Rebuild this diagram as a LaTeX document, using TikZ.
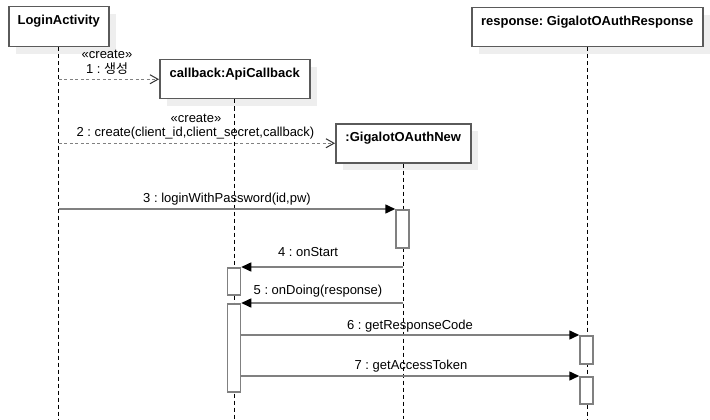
\documentclass[tikz,border=0pt]{standalone}
\usepackage{fontspec}
\setmainfont{Liberation Sans}
\newfontfamily\krfont{Noto Sans CJK KR}
\usetikzlibrary{arrows.meta,shadows}
\definecolor{boxgray}{HTML}{5A5A5A}
\definecolor{linegray}{HTML}{808080}
\definecolor{shadowgray}{HTML}{EEEEEE}
\frenchspacing
\begin{document}
\frenchspacing
\begin{tikzpicture}[x=1pt,y=-1pt,
  font=\fontsize{13}{15}\selectfont\frenchspacing,
  obj/.style={draw=boxgray, line width=1.5pt, fill=white, rectangle, inner sep=0pt,
    anchor=north west,
    general shadow={fill=shadowgray, draw=none, shadow xshift=7pt, shadow yshift=-7pt}},
  title/.style={anchor=base, yshift=-18.5pt, inner sep=0pt, font=\fontsize{13}{15}\selectfont\bfseries\frenchspacing},
  life/.style={draw=black, line width=0.8pt, dash pattern=on 4pt off 3pt},
  act/.style={draw=linegray, line width=1.5pt, fill=white, rectangle, inner sep=0pt,
    minimum width=13pt, anchor=north},
  msg/.style={draw=linegray, line width=1.5pt, -{Triangle[length=10pt,width=9pt,fill=black,color=black]}},
  create/.style={draw=linegray, line width=1.3pt, dash pattern=on 3pt off 2.5pt,
    -{Straight Barb[length=8pt,width=9pt,line width=1pt,color=black!80]}},
  lbl/.style={anchor=base, inner sep=0pt},
]
\useasboundingbox (0,0) rectangle (710,420);
\coordinate (bot) at (0,419);

% objects
\node[obj, minimum width=100pt, minimum height=40pt,
  label={[title]north:LoginActivity}] (login) at (8,6) {};
\node[obj, minimum width=150pt, minimum height=39pt,
  label={[title]north:callback:ApiCallback}] (cb) at (159,59) {};
\node[obj, minimum width=135pt, minimum height=39pt,
  label={[title]north::GigalotOAuthNew}] (gon) at (335,123) {};
\node[obj, minimum width=231pt, minimum height=39pt,
  label={[title]north:response: GigalotOAuthResponse}] (resp) at (471,7) {};

% lifelines
\draw[life] (login.south) -- (login.south |- bot);
\draw[life] (cb.south) -- (cb.south |- bot);
\draw[life] (gon.south) -- (gon.south |- bot);
\draw[life] (resp.south) -- (resp.south |- bot);

% activations
\node[act, minimum height=38pt] (a3) at (402.5,209) {};
\node[act, minimum height=27pt] (a4) at (234,267) {};
\node[act, minimum height=88pt] (a5) at (234,303) {};
\node[act, minimum height=28pt] (a6) at (586.5,335) {};
\node[act, minimum height=27pt] (a7) at (586.5,376) {};

% messages
\draw[create] (login.south |- cb.west) -- (cb.west);
\draw[create] (login.south |- gon.west) -- (gon.west);
\draw[msg] (login.south |- a3.north west) -- (a3.north west);
\draw[msg] (gon.south |- a4.north east) -- (a4.north east);
\draw[msg] (gon.south |- a5.north east) -- (a5.north east);
\draw[msg] (a5.east |- a6.north west) -- (a6.north west);
\draw[msg] (a5.east |- a7.north west) -- (a7.north west);

% labels
\node[lbl] (l1a) at (107,58.5) {«create»};
\node[lbl] (l1b) at (107,73.5) {1 : {\krfont 생성}};
\node[lbl] (l2a) at (196,122.5) {«create»};
\node[lbl] (l2b) at (195.5,136.5) {2 : create(client\_id,client\_secret,callback)};
\node[lbl] (l3) at (227,202.5) {3 : loginWithPassword(id,pw)};
\node[lbl] (l4) at (308,256.5) {4 : onStart};
\node[lbl] (l5) at (318,294.5) {5 : onDoing(response)};
\node[lbl] (l6) at (410,329.5) {6 : getResponseCode};
\node[lbl] (l7) at (411,369.5) {7 : getAccessToken};
\end{tikzpicture}
\end{document}
